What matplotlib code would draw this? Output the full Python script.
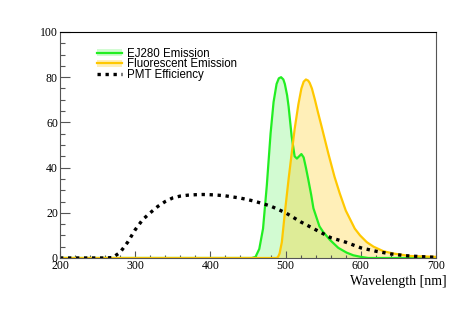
import matplotlib
matplotlib.use("Agg")
import matplotlib.pyplot as plt
from matplotlib.lines import Line2D
from matplotlib.patches import Patch
from matplotlib.ticker import MultipleLocator

# EJ280 emission spectrum
wl_ej = [200, 300, 400, 455, 460, 465, 470, 475, 480, 484, 488, 491, 494, 497, 499,
         502, 504, 508, 512, 515, 518, 521, 524, 527, 530, 534, 537, 541, 545, 550,
         559, 570, 581, 590, 600, 610, 700]
ej280 = [0, 0, 0, 0, 0.5, 4, 13, 32, 55, 69, 77, 79.5, 80, 79, 77,
         72, 67, 54, 45, 44, 45, 46, 44.5, 40, 35, 28, 22, 18, 14, 11.5,
         8, 4.5, 2.4, 1.2, 0.5, 0, 0]

# fluorescent (wavelength shifter) emission
wl_fl = [200, 300, 400, 488, 490, 492, 495, 499, 504, 508, 512, 517, 521, 524, 527,
         530, 532, 535, 539, 543, 548, 557, 565, 572, 580, 586, 592, 599, 608, 617,
         630, 643, 665, 700]
fluor = [0, 0, 0, 0, 0.5, 2, 7, 20, 35, 46, 57, 68, 75, 78, 79,
         78.5, 77.5, 75, 70, 64.5, 58, 46, 36, 28.6, 21, 17, 13, 10, 7, 5,
         3, 2, 0.9, 0.5]

# PMT quantum efficiency
wl_pmt = [200, 220, 240, 260, 270, 280, 290, 300, 310, 320, 330, 340, 350, 360, 370,
          380, 390, 400, 410, 420, 430, 440, 450, 460, 470, 480, 490, 500, 520, 540,
          560, 580, 600, 620, 640, 660, 680, 700]
pmt = [0, 0, 0, 0, 0.2, 2.5, 7, 12.5, 17, 20, 22.8, 25, 26.6, 27.4, 27.8,
       28, 28.1, 28, 27.8, 27.5, 27, 26.5, 25.8, 25, 24, 23, 21.5, 20, 16, 12.5,
       9, 7, 4.5, 3, 1.8, 1, 0.6, 0.3]

green = "#22ee22"
yellow = "#ffc800"
serif = "Liberation Serif"
sans = "Liberation Sans"

fig = plt.figure(figsize=(4.6, 3.14), dpi=100)
ax = fig.add_axes([60 / 460, 1 - 258 / 314, 376 / 460, 226 / 314])

ax.fill_between(wl_ej, ej280, 0, color=green, alpha=0.2, linewidth=0)
ax.fill_between(wl_fl, fluor, 0, color=yellow, alpha=0.28, linewidth=0)
ax.plot(wl_ej, ej280, color=green, lw=1.6)
ax.plot(wl_fl, fluor, color=yellow, lw=1.6)
ax.plot(wl_pmt, pmt, color="black", lw=2.4, dashes=(1, 1.4), dash_capstyle="butt")

ax.set_xlim(200, 700)
ax.set_ylim(0, 100)
ax.xaxis.set_major_locator(MultipleLocator(100))
ax.xaxis.set_minor_locator(MultipleLocator(20))
ax.yaxis.set_major_locator(MultipleLocator(20))
ax.yaxis.set_minor_locator(MultipleLocator(5))
ax.tick_params(axis="y", which="major", direction="in", length=7.2, width=0.8, color="#555555", pad=1.5)
ax.tick_params(axis="y", which="minor", direction="in", length=3.6, width=0.8, color="#555555")
ax.tick_params(axis="x", which="major", direction="in", length=5, width=0.8, color="#555555", pad=1.5)
ax.tick_params(axis="x", which="minor", direction="in", length=2.5, width=0.8, color="#555555")
for lab in ax.get_xticklabels() + ax.get_yticklabels():
    lab.set_fontfamily(serif)
    lab.set_fontsize(8.5)
for side in ["left", "right", "bottom"]:
    ax.spines[side].set_color("#555555")
ax.spines["top"].set_color("black")

ax.text(1.027, -0.106, "Wavelength [nm]", transform=ax.transAxes, ha="right", va="center",
        fontsize=10, family=serif)

handles = [
    (Patch(facecolor=green, alpha=0.2, linewidth=0), Line2D([], [], color=green, lw=1.6)),
    (Patch(facecolor=yellow, alpha=0.28, linewidth=0), Line2D([], [], color=yellow, lw=1.6)),
    Line2D([], [], color="black", lw=2.4, dashes=(1, 1.4), dash_capstyle="butt"),
]
labels = ["EJ280 Emission", "Fluorescent Emission", "PMT Efficiency"]
ax.legend(handles, labels, loc="upper left", bbox_to_anchor=((97 - 60) / 376, 0.93),
          frameon=False, borderpad=0, borderaxespad=0, handlelength=2.2, handleheight=0.6,
          handletextpad=0.4, labelspacing=-0.13, prop={"family": sans, "size": 8.3})

fig.savefig("out.png", dpi=100)
